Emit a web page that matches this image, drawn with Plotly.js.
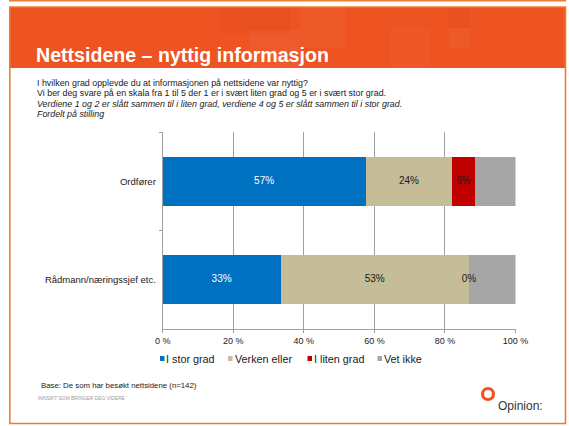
<!DOCTYPE html>
<html>
<head>
<meta charset="utf-8">
<script src="https://cdn.plot.ly/plotly-3.0.1.min.js"></script>
<style>html,body{margin:0;padding:0;background:#fff;}#chart{width:569px;height:426px;}</style>
</head>
<body>
<div id="chart"></div>
<script>
// ---- data ----
const categories = ['Ordfører', 'Rådmann/næringssjef etc.'];
const seriesNames = ['I stor grad', 'Verken eller', 'I liten grad', 'Vet ikke'];
const storGrad   = [57.5, 33.4];
const verken     = [24.6, 53.4];
const litenGrad  = [6.3, 0];
const vetIkke    = [11.6, 13.2];
const labelsStor   = ['57%', '33%'];
const labelsVerken = ['24%', '53%'];
const labelsLiten  = ['6%', '0%'];
const labelsVet    = ['', ''];
const xTickVals  = [0, 20, 40, 60, 80, 100];
const xTickText  = ['0 %', '20 %', '40 %', '60 %', '80 %', '100 %'];

// ---- styles ----
const colors = ['#0070C0', '#C4BD97', '#C00000', '#A6A6A6'];
const labelColors = ['#ffffff', '#1a1a1a', '#1a1a1a', '#1a1a1a'];
const W = 569, H = 426;
const px = x => x / W;
const py = y => 1 - y / H;
const FONT = '"Liberation Sans", Arial, sans-serif';

const seriesValues = [storGrad, verken, litenGrad, vetIkke];
const seriesLabels = [labelsStor, labelsVerken, labelsLiten, labelsVet];

const traces = seriesValues.map((vals, i) => ({
  type: 'bar', orientation: 'h', name: seriesNames[i],
  x: vals, y: categories,
  marker: {color: colors[i], line: {width: 0}},
  hoverinfo: 'skip', showlegend: false
}));

// label traces at segment midpoints
const cum = categories.map(() => 0);
seriesValues.forEach((vals, i) => {
  const xs = [], ys = [], ts = [];
  vals.forEach((v, j) => {
    xs.push(cum[j] + v / 2); ys.push(categories[j]); ts.push(seriesLabels[i][j]);
    cum[j] += v;
  });
  traces.push({
    type: 'scatter', mode: 'text', x: xs, y: ys, text: ts,
    textfont: {family: FONT, size: 10, color: labelColors[i]},
    textposition: 'middle center', hoverinfo: 'skip', showlegend: false,
    cliponaxis: false
  });
});

const shapes = [
  // top thin line
  {type:'rect', xref:'paper', yref:'paper', x0:px(9), x1:px(566), y0:py(0), y1:py(1.6), fillcolor:'#ED7D31', line:{width:0}, layer:'below'},
  // header
  {type:'rect', xref:'paper', yref:'paper', x0:px(9.5), x1:px(566), y0:py(7), y1:py(68), fillcolor:'#EE5322', line:{width:0}, layer:'below'},
  // header decorative tiles (subtle)
  {type:'rect', xref:'paper', yref:'paper', x0:px(220), x1:px(290), y0:py(7), y1:py(33), fillcolor:'rgba(200,40,10,0.09)', line:{width:0}, layer:'below'},
  {type:'rect', xref:'paper', yref:'paper', x0:px(250), x1:px(300), y0:py(30), y1:py(68), fillcolor:'rgba(255,255,255,0.045)', line:{width:0}, layer:'below'},
  {type:'rect', xref:'paper', yref:'paper', x0:px(300), x1:px(345), y0:py(7), y1:py(48), fillcolor:'rgba(255,255,255,0.035)', line:{width:0}, layer:'below'},
  {type:'rect', xref:'paper', yref:'paper', x0:px(390), x1:px(430), y0:py(28), y1:py(68), fillcolor:'rgba(255,255,255,0.03)', line:{width:0}, layer:'below'},
  {type:'rect', xref:'paper', yref:'paper', x0:px(449), x1:px(470), y0:py(7), y1:py(28), fillcolor:'rgba(200,40,10,0.07)', line:{width:0}, layer:'below'},
  {type:'rect', xref:'paper', yref:'paper', x0:px(449), x1:px(470), y0:py(28), y1:py(48), fillcolor:'rgba(255,255,255,0.04)', line:{width:0}, layer:'below'},
  // border
  {type:'rect', xref:'paper', yref:'paper', x0:px(9.8), x1:px(565.5), y0:py(7), y1:py(423.5), line:{color:'#ED7D31', width:1.6}, fillcolor:'rgba(0,0,0,0)', layer:'above'},
  // Opinion ring
  {type:'circle', xref:'paper', yref:'paper', x0:px(482.5), x1:px(493.5), y0:py(388.5), y1:py(399.5), line:{color:'#EE5322', width:3.2}, fillcolor:'rgba(0,0,0,0)'}
];

// legend squares
const legendSquareX = [160, 228, 307.5, 377.5];
const legendTextX = [165, 234, 313, 383];
const legendY = 358.5;
legendSquareX.forEach((x, i) => {
  shapes.push({type:'rect', xref:'paper', yref:'paper', x0:px(x), x1:px(x+4.5), y0:py(legendY+2.5), y1:py(legendY-2.5), fillcolor:colors[i], line:{width:0}});
});

const ann = (text, x, y, size, opts={}) => Object.assign({
  text, x: px(x), y: py(y), xref:'paper', yref:'paper', xanchor:'left', yanchor:'middle',
  showarrow:false, borderpad:0, font:{family:FONT, size, color:'#1a1a1a'}
}, opts);

const annotations = [
  ann('<b>Nettsidene – nyttig informasjon</b>', 35, 55, 19.6, {font:{family:FONT, size:19.6, color:'#ffffff'}}),
  ann('I hvilken grad opplevde du at informasjonen på nettsidene var nyttig?', 36, 83, 8.9),
  ann('Vi ber deg svare på en skala fra 1 til 5 der 1 er i svært liten grad og 5 er i svært stor grad.', 36, 93, 8.9),
  ann('<i>Verdiene 1 og 2 er slått sammen til i liten grad, verdiene 4 og 5 er slått sammen til i stor grad.</i>', 36, 103.5, 8.9),
  ann('<i>Fordelt på stilling</i>', 36, 114, 8.9),
  ann('Base: De som har besøkt nettsidene (n=142)', 40, 385, 7.8),
  ann('INNSIKT SOM BRINGER DEG VIDERE', 37, 398, 4.9, {font:{family:FONT, size:4.9, color:'#9a9a9a'}}),
  ann('Opinion:', 497, 406, 12, {font:{family:FONT, size:12, color:'#333333'}})
];
seriesNames.forEach((n, i) => annotations.push(ann(n, legendTextX[i], legendY, 10.8, {font:{family:FONT, size:10.8, color:'#1a1a1a'}})));

const layout = {
  width: W, height: H,
  margin: {l:0, r:0, t:0, b:0},
  paper_bgcolor:'#ffffff', plot_bgcolor:'#ffffff',
  barmode:'stack', bargap:0.5,
  showlegend:false,
  xaxis: {
    domain:[px(162.7), px(515.5)], range:[0,100], fixedrange:true,
    tickvals:xTickVals, ticktext:xTickText,
    showgrid:true, gridcolor:'#a0a0a0', gridwidth:1,
    showline:true, linecolor:'#a0a0a0', linewidth:1,
    ticks:'outside', ticklen:3, tickcolor:'#a0a0a0',
    zeroline:false,
    tickfont:{family:FONT, size:9, color:'#1a1a1a'}
  },
  yaxis: {
    domain:[py(329), py(132)], type:'category', range:[1.5,-0.5], fixedrange:true,
    showgrid:false, zeroline:false,
    showline:true, linecolor:'#a0a0a0', linewidth:1,
    ticks:'outside', tickson:'boundaries', ticklen:3, tickcolor:'#a0a0a0',
    ticklabelstandoff:4,
    tickfont:{family:FONT, size:9.5, color:'#1a1a1a'}
  },
  shapes, annotations
};

Plotly.newPlot('chart', traces, layout, {staticPlot:true, displayModeBar:false});
</script>
</body>
</html>
